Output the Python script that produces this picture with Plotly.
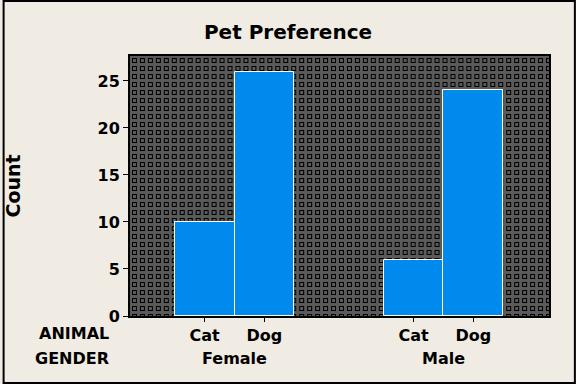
import base64
import plotly.graph_objects as go

# ---- data ----
genders = ["Female", "Male"]
animals = ["Cat", "Dog"]
counts = {
    "Female": [10, 26],
    "Male": [6, 24],
}
y_ticks = [0, 5, 10, 15, 20, 25]

# ---- layout constants ----
W, H = 576, 384
L, R, T, B = 128, 27, 56, 68
PW, PH = W - L - R, H - T - B
GROUP_STEP = 3.5
BAR_COLOR = "#008AEE"
PAGE_BG = "#F0ECE3"
PLOT_BG = "#5A5A5A"
FONT = "DejaVu Sans"

# background pattern (squares) as an svg image
svg = f'''<svg xmlns="http://www.w3.org/2000/svg" width="{PW}" height="{PH}">
<defs><pattern id="p" x="0" y="0" width="8" height="8" patternUnits="userSpaceOnUse">
<rect x="0" y="0" width="8" height="8" fill="{PLOT_BG}"/>
<rect x="2.5" y="2.5" width="4" height="4" fill="none" stroke="#000" stroke-width="1"/>
</pattern></defs>
<rect width="{PW}" height="{PH}" fill="url(#p)"/></svg>'''
svg_uri = "data:image/svg+xml;base64," + base64.b64encode(svg.encode()).decode()

fig = go.Figure()
tickvals, ticktext = [], []
for gi, g in enumerate(genders):
    xs = [gi * GROUP_STEP + ai for ai in range(len(animals))]
    tickvals += xs
    ticktext += animals
    fig.add_trace(go.Bar(
        x=xs, y=counts[g], width=1.0,
        marker=dict(color=BAR_COLOR, line=dict(color="white", width=1)),
        showlegend=False, hoverinfo="skip",
    ))

bold = dict(family=FONT, size=16, color="black", weight="bold")

annotations = [
    dict(text="ANIMAL", xref="paper", yref="paper",
         x=(72 - L) / PW, y=(H - B - 333) / PH, showarrow=False,
         font=bold, xanchor="center", yanchor="middle"),
    dict(text="GENDER", xref="paper", yref="paper",
         x=(70 - L) / PW, y=(H - B - 358) / PH, showarrow=False,
         font=bold, xanchor="center", yanchor="middle"),
]
for gi, g in enumerate(genders):
    annotations.append(dict(
        text=g, xref="x", yref="paper",
        x=gi * GROUP_STEP + (len(animals) - 1) / 2, y=(H - B - 358) / PH,
        showarrow=False, font=bold, xanchor="center", yanchor="middle"))

fig.update_layout(
    width=W, height=H,
    margin=dict(l=L, r=R, t=T, b=B),
    paper_bgcolor=PAGE_BG,
    plot_bgcolor=PLOT_BG,
    bargap=0,
    title=dict(text="Pet Preference", x=0.5, xref="container", xanchor="center",
               y=1 - 32 / H, yref="container", yanchor="middle",
               font=dict(family=FONT, size=20, color="black", weight="bold")),
    xaxis=dict(range=[-1.25, 5.767], tickvals=tickvals, ticktext=ticktext,
               showgrid=False, zeroline=False, ticks="outside", ticklen=4,
               tickcolor="black", tickwidth=1,
               showline=True, linecolor="black", linewidth=2, mirror=True,
               tickfont=bold),
    yaxis=dict(range=[0, 27.65], tickvals=y_ticks, showgrid=False, zeroline=False,
               ticks="outside", ticklen=5, tickcolor="black", tickwidth=1,
               showline=True, linecolor="black", linewidth=2, mirror=True,
               tickfont=bold,
               title=dict(text="Count", standoff=72,
                          font=dict(family=FONT, size=19, color="black", weight="bold"))),
    images=[dict(source=svg_uri, xref="paper", yref="paper", x=0, y=1,
                 sizex=1, sizey=1, sizing="stretch", layer="below",
                 xanchor="left", yanchor="top")],
    annotations=annotations,
    shapes=[dict(type="rect", xref="paper", yref="paper",
                 x0=(1 - L) / PW, x1=(W - 1 - L) / PW,
                 y0=(H - B - (H - 1)) / PH, y1=(H - B - 1) / PH,
                 line=dict(color="black", width=2), fillcolor="rgba(0,0,0,0)",
                 layer="above")],
)

fig.write_html("out.html", config={"displayModeBar": False},
               post_script="document.body.style.margin='0';document.body.style.overflow='hidden';")
